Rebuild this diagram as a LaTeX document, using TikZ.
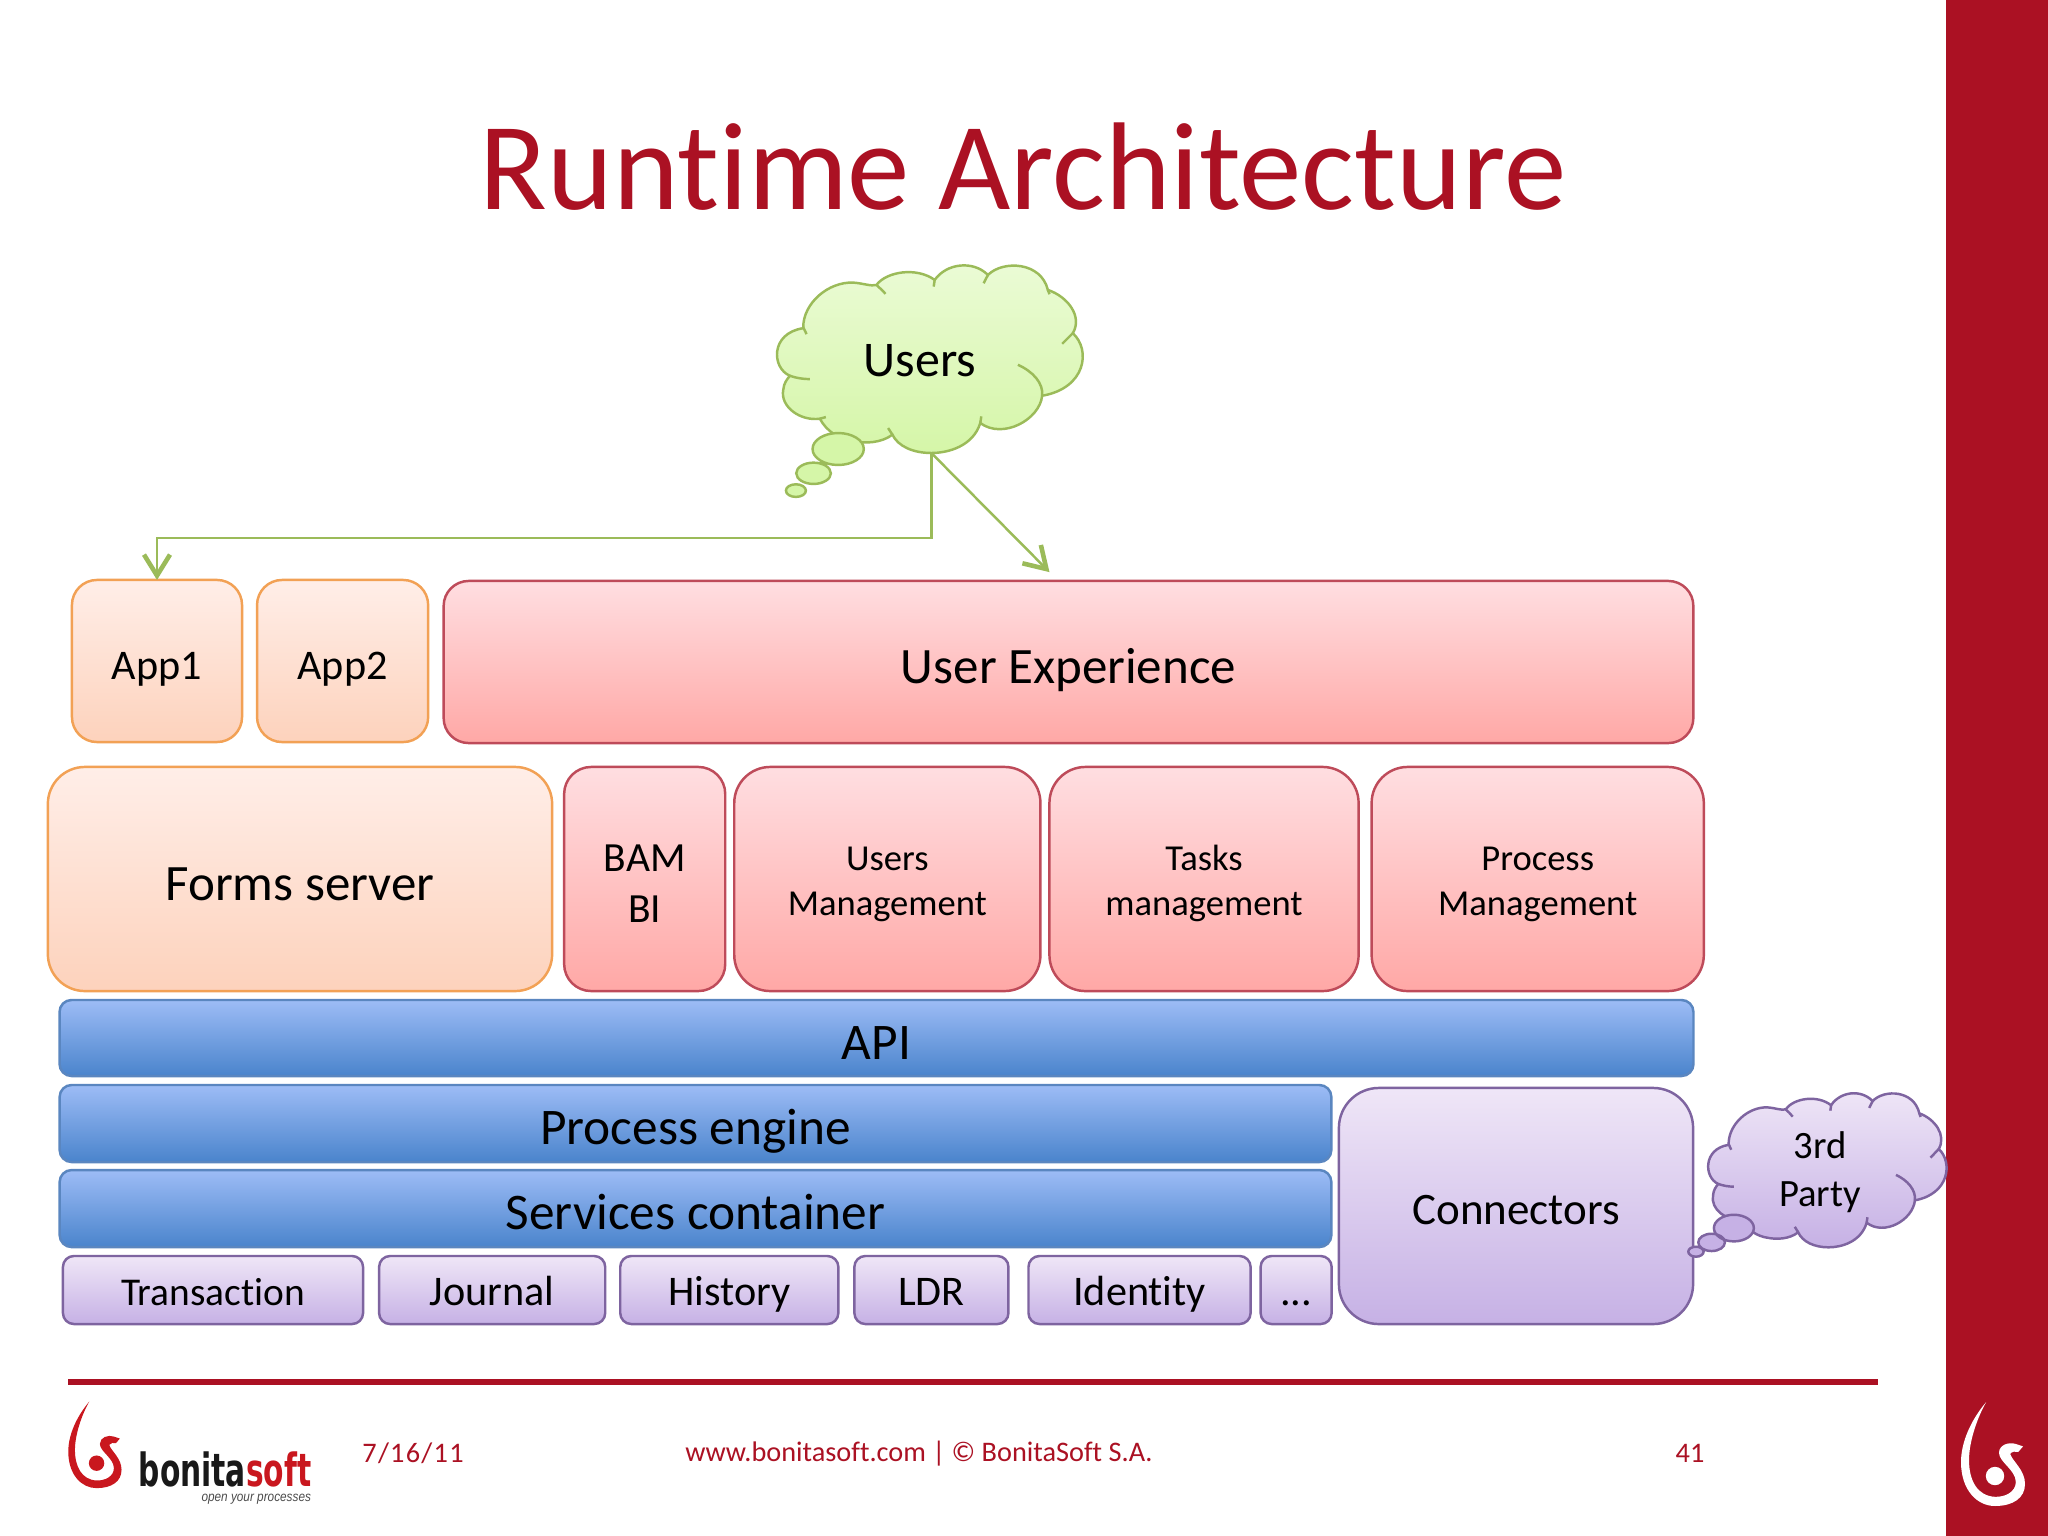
\documentclass[tikz,border=0pt]{standalone}
\usepackage{fontspec}
\usepackage{tikz}
\usetikzlibrary{positioning,arrows.meta}
\setmainfont{Carlito}[Ligatures=NoCommon]
\newfontfamily\logofont{DejaVu Sans}
\newfontfamily\tagfont{Liberation Sans}
\definecolor{bonitared}{HTML}{AB1123}
\definecolor{logored}{HTML}{C9171E}
\definecolor{greenline}{HTML}{9BBB59}
\definecolor{greentop}{HTML}{EBFBD6}
\definecolor{greenbot}{HTML}{D5F6A8}
\definecolor{purpleline}{HTML}{7E64A0}
\definecolor{purpletop}{HTML}{EFE6F7}
\definecolor{purplebot}{HTML}{C6B1E5}
\definecolor{orangeline}{HTML}{F2A155}
\definecolor{orangetop}{HTML}{FFEEE8}
\definecolor{orangebot}{HTML}{FDD2BC}
\definecolor{redline}{HTML}{BE4B5A}
\definecolor{redtop}{HTML}{FFDEE1}
\definecolor{redbot}{HTML}{FFA8A6}
\definecolor{blueline}{HTML}{5A86C0}
\definecolor{bluetop}{HTML}{9DBCF6}
\definecolor{bluebot}{HTML}{4A84CC}

% raises the head of a two line text
\newcommand{\headlift}{\rule{0pt}{0.93em}}

% outline of a cloud, in zoomed units
\newcommand{\cloudoutline}{
  (190,262) .. controls (190,190) and (265,125) .. (340,128)
  .. controls (370,130) and (395,140) .. (410,135)
  .. controls (440,95) and (530,80) .. (585,120)
  .. controls (620,70) and (700,60) .. (745,105)
  .. controls (790,60) and (905,65) .. (925,150)
  .. controls (985,170) and (1030,230) .. (1000,280)
  .. controls (1055,330) and (1040,445) .. (908,468)
  .. controls (900,540) and (790,600) .. (722,550)
  .. controls (700,620) and (625,640) .. (575,640)
  .. controls (520,640) and (475,620) .. (458,585)
  .. controls (425,610) and (375,612) .. (340,605)
  .. controls (300,600) and (260,575) .. (240,537)
  .. controls (180,545) and (120,500) .. (130,450)
  .. controls (132,430) and (140,420) .. (150,408)
  .. controls (95,385) and (90,280) .. (190,265) -- cycle
}
\newcommand{\cloudhooks}{
  (190,262) -- (200,283)
  (410,135) .. controls (420,145) and (430,152) .. (437,162)
  (585,120) -- (582,140)
  (745,105) -- (732,130)
  (925,150) -- (930,163)
  (1000,280) -- (968,312)
  (835,375) .. controls (880,395) and (912,430) .. (908,468)
  (722,550) -- (725,530)
  (458,585) -- (445,565)
  (240,537) -- (258,532)
  (150,408) .. controls (170,415) and (190,418) .. (210,418)
}
\newcommand{\swirlshape}{
  (148,125) .. controls (110,170) and (85,225) .. (85,275)
  .. controls (85,345) and (125,385) .. (170,385)
  .. controls (215,385) and (245,365) .. (245,330)
  .. controls (245,295) and (215,275) .. (208,255)
  .. controls (212,248) and (222,248) .. (228,250)
  -- (240,236) -- (222,230)
  .. controls (205,224) and (180,232) .. (180,252)
  .. controls (180,275) and (222,295) .. (222,325)
  .. controls (222,350) and (195,363) .. (170,362)
  .. controls (125,360) and (105,320) .. (105,270)
  .. controls (105,225) and (125,165) .. (148,125) -- cycle
}

\begin{document}
\begin{tikzpicture}[x=0.01cm, y=-0.01cm, semithick, outer sep=0pt]
  \tikzstyle{box}=[draw, align=center, inner sep=0pt, line width=0.7pt, text height=0.50cm, text depth=0.08cm]
  \tikzstyle{twoline}=[text height=, text depth=]
  \tikzstyle{appbox}=[box, draw=orangeline, top color=orangetop, bottom color=orangebot, rounded corners=0.25cm]
  \tikzstyle{redbox}=[box, draw=redline, top color=redtop, bottom color=redbot, rounded corners=0.27cm]
  \tikzstyle{bluebox}=[box, draw=blueline, top color=bluetop, bottom color=bluebot, rounded corners=0.12cm, font=\fontsize{14.6}{18}\selectfont]
  \tikzstyle{purplebox}=[box, draw=purpleline, top color=purpletop, bottom color=purplebot, rounded corners=0.11cm, minimum height=0.68cm, font=\fontsize{12}{14}\selectfont, text height=0.39cm, text depth=0.076cm]
  \tikzstyle{footer}=[text=bonitared, font=\fontsize{8.05}{10}\selectfont]
  \tikzstyle{link}=[draw=greenline, line width=0.7pt, -{Straight Barb[length=0.21cm, width=0.26cm, line width=1.3pt]}]

  \useasboundingbox (0,0) rectangle (2048,1536);
  \fill[white] (0,0) rectangle (2048,1536);
  \fill[bonitared] (1946,0) rectangle (2048,1536);
  \fill[bonitared] (68,1379) rectangle (1878,1385);

  \node[text=bonitared, font=\fontsize{35.5}{42}\selectfont] (title) at (1023,167) {Runtime Architecture};

  % users cloud
  \begin{scope}[shift={(740,240)}, x=0.00333cm, y=-0.00333cm]
    \path[draw=greenline, line width=0.7pt, top color=greentop, bottom color=greenbot] \cloudoutline;
    \path[draw=greenline, line width=0.7pt] \cloudhooks;
    \path[draw=greenline, line width=0.7pt, fill=greenbot]
      (295,628) ellipse [x radius=77, y radius=48]
      (221,701) ellipse [x radius=52, y radius=32]
      (168,753) ellipse [x radius=30, y radius=19];
    \coordinate (usersout) at (575,640);
    \coordinate (uxin) at (930,998);
  \end{scope}
  \node[font=\fontsize{14.2}{17}\selectfont] (users) at (920,361) {Users};

  \node[appbox, minimum width=1.70cm, minimum height=1.62cm, text height=0.44cm, font=\fontsize{12}{14}\selectfont] (app1) at (157,661) {App1};
  \node[appbox, minimum width=1.71cm, minimum height=1.62cm, text height=0.44cm, font=\fontsize{12}{14}\selectfont] (app2) [right=0.15cm of app1] {App2};
  \node[redbox, minimum width=12.49cm, minimum height=1.62cm, rounded corners=0.25cm, font=\fontsize{14.5}{18}\selectfont] (ux) at (1068.5,662) {User Experience};

  \node[appbox, minimum width=5.04cm, minimum height=2.24cm, rounded corners=0.37cm, font=\fontsize{14.5}{18}\selectfont] (forms) at (300,879) {Forms server};
  \node[redbox, twoline, minimum width=1.61cm, minimum height=2.24cm, font=\fontsize{11.8}{14.5}\selectfont] (bam) [right=0.12cm of forms] {\rule{0pt}{0.85em}BAM\\BI};
  \node[redbox, twoline, minimum width=3.06cm, minimum height=2.24cm, rounded corners=0.36cm, font=\fontsize{10.4}{12.6}\selectfont] (usersmgt) [right=0.09cm of bam] {\headlift Users\\Management};
  \node[redbox, twoline, minimum width=3.09cm, minimum height=2.24cm, rounded corners=0.36cm, font=\fontsize{10.4}{12.6}\selectfont] (tasksmgt) [right=0.09cm of usersmgt] {\headlift Tasks\\management};
  \node[redbox, twoline, minimum width=3.32cm, minimum height=2.24cm, rounded corners=0.36cm, font=\fontsize{10.4}{12.6}\selectfont] (procmgt) [right=0.13cm of tasksmgt] {\headlift Process\\Management};

  \node[bluebox, minimum width=16.33cm, minimum height=0.76cm] (api) at (876.5,1038) {API};
  \node[bluebox, minimum width=12.71cm, minimum height=0.77cm] (engine) at (695.5,1123.5) {Process engine};
  \node[bluebox, minimum width=12.71cm, minimum height=0.77cm] (services) [below=0.08cm of engine] {Services container};

  \node[purplebox, minimum width=3.00cm, font=\fontsize{11.2}{14}\selectfont] (transaction) at (213,1290) {Transaction};
  \node[purplebox, minimum width=2.26cm] (journal) [right=0.16cm of transaction] {Journal};
  \node[purplebox, minimum width=2.18cm] (history) [right=0.15cm of journal] {History};
  \node[purplebox, minimum width=1.54cm] (ldr) [right=0.16cm of history] {LDR};
  \node[purplebox, minimum width=2.22cm] (identity) [right=0.20cm of ldr] {Identity};
  \node[purplebox, minimum width=0.71cm] (more) [right=0.10cm of identity] {...};
  \node[purplebox, minimum width=3.54cm, minimum height=2.36cm, rounded corners=0.40cm, text height=0.45cm, font=\fontsize{12.8}{15}\selectfont] (connectors) at (1516,1206) {Connectors};

  % third party cloud
  \begin{scope}[shift={(1679.3,1072.4)}, x=0.00259cm, y=-0.00273cm]
    \path[draw=purpleline, line width=0.7pt, top color=purpletop, bottom color=purplebot] \cloudoutline;
    \path[draw=purpleline, line width=0.7pt] \cloudhooks;
  \end{scope}
  \begin{scope}[shift={(1660,1060)}, x=0.00333cm, y=-0.00333cm]
    \path[draw=purpleline, line width=0.7pt, fill=purplebot]
      (222,505) ellipse [x radius=60, y radius=40]
      (155,548) ellipse [x radius=40, y radius=26]
      (108,576) ellipse [x radius=23, y radius=15];
  \end{scope}
  \node[align=center, font=\fontsize{11}{13.6}\selectfont] (third) at (1820,1172) {3rd\\Party};

  \draw[link] (usersout) -- ++(0,85) -| (app1);
  \draw[link] (usersout) -- (uxin);

  % footer
  \node[footer] (date) at (413,1453) {\addfontfeature{LetterSpace=4.5}7/16/11};
  \node[footer] (web) at (919,1454) {www.bonitasoft.com | © BonitaSoft S.A.};
  \node[footer] (page) at (1690,1453) {41};
  \begin{scope}[shift={(40,1360)}, x=0.00333cm, y=-0.00333cm]
    \fill[logored] \swirlshape;
    \fill[logored] (170,310) circle [radius=0.077cm];
  \end{scope}
  \begin{scope}[shift={(1927,1352)}, x=0.004cm, y=-0.004cm]
    \fill[white] \swirlshape;
    \fill[white] (170,310) circle [radius=0.092cm];
  \end{scope}
  \node[font=\fontsize{13}{16}\logofont\bfseries\selectfont, inner sep=0pt] (logoname) at (225,1469) {\scalebox{0.65}[1]{\textcolor{black!90}{bonita}\textcolor{logored}{soft}}};
  \node[font=\fontsize{3.9}{5}\tagfont\itshape\selectfont, text=black!70, inner sep=0pt, anchor=east] (logotag) at (311,1499) {\scalebox{0.86}[1]{open your processes}};
\end{tikzpicture}
\end{document}
